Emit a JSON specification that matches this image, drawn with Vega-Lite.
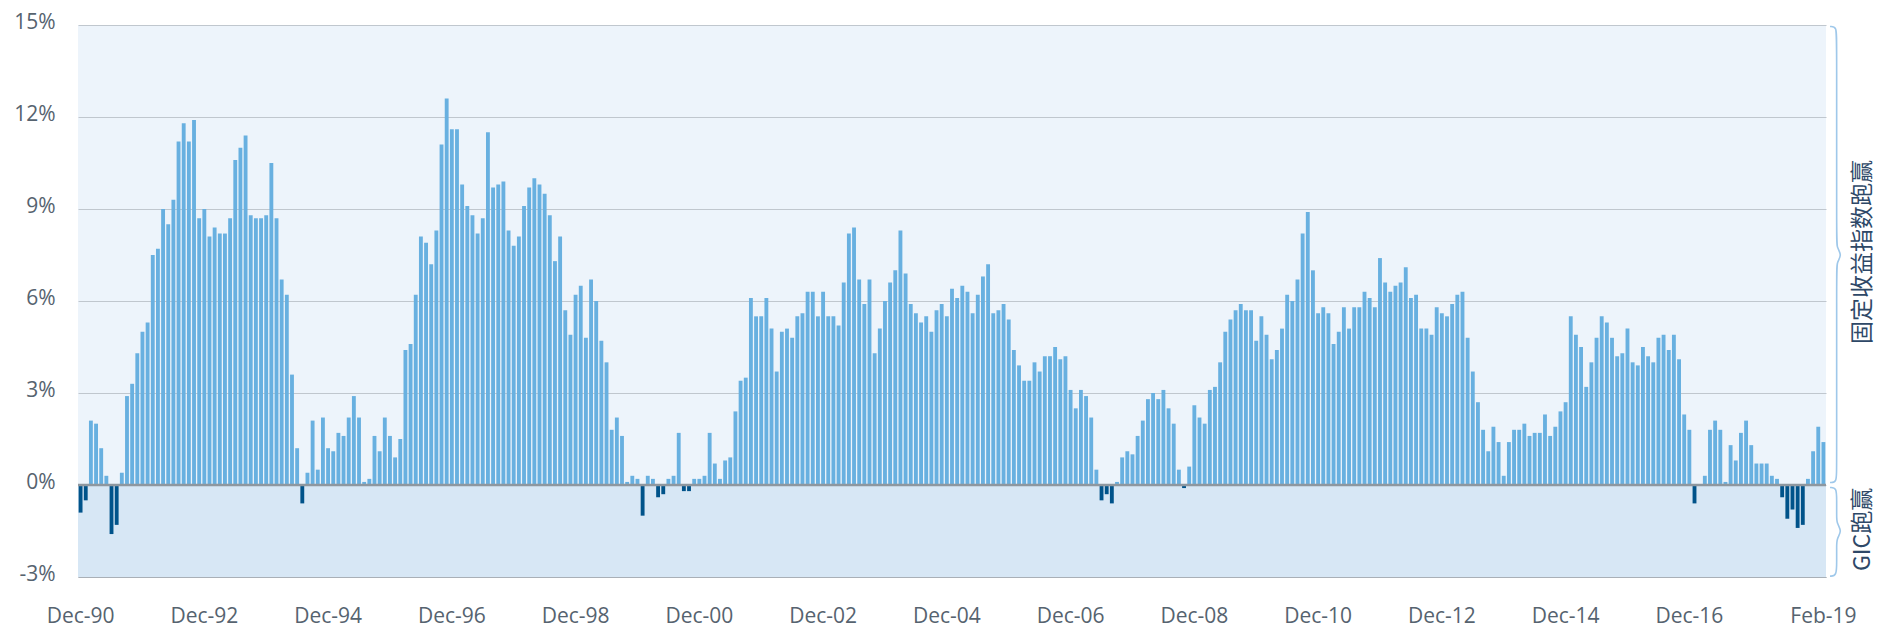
{
  "$schema": "https://vega.github.io/schema/vega-lite/v6.json",
  "width": 1748,
  "height": 552,
  "autosize": {"type": "none"},
  "padding": {"left": 78, "top": 25, "right": 51, "bottom": 52},
  "background": "#ffffff",
  "config": {
    "view": {"fill": "#EDF4FB", "stroke": null},
    "font": "Open Sans"
  },
  "datasets": {
    "main": [
      {"month":"Dec-90","v":-0.9},
      {"month":"Jan-91","v":-0.5},{"month":"Feb-91","v":2.1},{"month":"Mar-91","v":2.0},{"month":"Apr-91","v":1.2},{"month":"May-91","v":0.3},{"month":"Jun-91","v":-1.6},{"month":"Jul-91","v":-1.3},{"month":"Aug-91","v":0.4},{"month":"Sep-91","v":2.9},{"month":"Oct-91","v":3.3},{"month":"Nov-91","v":4.3},{"month":"Dec-91","v":5.0},
      {"month":"Jan-92","v":5.3},{"month":"Feb-92","v":7.5},{"month":"Mar-92","v":7.7},{"month":"Apr-92","v":9.0},{"month":"May-92","v":8.5},{"month":"Jun-92","v":9.3},{"month":"Jul-92","v":11.2},{"month":"Aug-92","v":11.8},{"month":"Sep-92","v":11.2},{"month":"Oct-92","v":11.9},{"month":"Nov-92","v":8.7},{"month":"Dec-92","v":9.0},
      {"month":"Jan-93","v":8.1},{"month":"Feb-93","v":8.4},{"month":"Mar-93","v":8.2},{"month":"Apr-93","v":8.2},{"month":"May-93","v":8.7},{"month":"Jun-93","v":10.6},{"month":"Jul-93","v":11.0},{"month":"Aug-93","v":11.4},{"month":"Sep-93","v":8.8},{"month":"Oct-93","v":8.7},{"month":"Nov-93","v":8.7},{"month":"Dec-93","v":8.8},
      {"month":"Jan-94","v":10.5},{"month":"Feb-94","v":8.7},{"month":"Mar-94","v":6.7},{"month":"Apr-94","v":6.2},{"month":"May-94","v":3.6},{"month":"Jun-94","v":1.2},{"month":"Jul-94","v":-0.6},{"month":"Aug-94","v":0.4},{"month":"Sep-94","v":2.1},{"month":"Oct-94","v":0.5},{"month":"Nov-94","v":2.2},{"month":"Dec-94","v":1.2},
      {"month":"Jan-95","v":1.1},{"month":"Feb-95","v":1.7},{"month":"Mar-95","v":1.6},{"month":"Apr-95","v":2.2},{"month":"May-95","v":2.9},{"month":"Jun-95","v":2.2},{"month":"Jul-95","v":0.1},{"month":"Aug-95","v":0.2},{"month":"Sep-95","v":1.6},{"month":"Oct-95","v":1.1},{"month":"Nov-95","v":2.2},{"month":"Dec-95","v":1.6},
      {"month":"Jan-96","v":0.9},{"month":"Feb-96","v":1.5},{"month":"Mar-96","v":4.4},{"month":"Apr-96","v":4.6},{"month":"May-96","v":6.2},{"month":"Jun-96","v":8.1},{"month":"Jul-96","v":7.9},{"month":"Aug-96","v":7.2},{"month":"Sep-96","v":8.3},{"month":"Oct-96","v":11.1},{"month":"Nov-96","v":12.6},{"month":"Dec-96","v":11.6},
      {"month":"Jan-97","v":11.6},{"month":"Feb-97","v":9.8},{"month":"Mar-97","v":9.1},{"month":"Apr-97","v":8.8},{"month":"May-97","v":8.2},{"month":"Jun-97","v":8.7},{"month":"Jul-97","v":11.5},{"month":"Aug-97","v":9.7},{"month":"Sep-97","v":9.8},{"month":"Oct-97","v":9.9},{"month":"Nov-97","v":8.3},{"month":"Dec-97","v":7.8},
      {"month":"Jan-98","v":8.1},{"month":"Feb-98","v":9.1},{"month":"Mar-98","v":9.7},{"month":"Apr-98","v":10.0},{"month":"May-98","v":9.8},{"month":"Jun-98","v":9.5},{"month":"Jul-98","v":8.8},{"month":"Aug-98","v":7.3},{"month":"Sep-98","v":8.1},{"month":"Oct-98","v":5.7},{"month":"Nov-98","v":4.9},{"month":"Dec-98","v":6.2},
      {"month":"Jan-99","v":6.5},{"month":"Feb-99","v":4.8},{"month":"Mar-99","v":6.7},{"month":"Apr-99","v":6.0},{"month":"May-99","v":4.7},{"month":"Jun-99","v":4.0},{"month":"Jul-99","v":1.8},{"month":"Aug-99","v":2.2},{"month":"Sep-99","v":1.6},{"month":"Oct-99","v":0.1},{"month":"Nov-99","v":0.3},{"month":"Dec-99","v":0.2},
      {"month":"Jan-00","v":-1.0},{"month":"Feb-00","v":0.3},{"month":"Mar-00","v":0.2},{"month":"Apr-00","v":-0.4},{"month":"May-00","v":-0.3},{"month":"Jun-00","v":0.2},{"month":"Jul-00","v":0.3},{"month":"Aug-00","v":1.7},{"month":"Sep-00","v":-0.2},{"month":"Oct-00","v":-0.2},{"month":"Nov-00","v":0.2},{"month":"Dec-00","v":0.2},
      {"month":"Jan-01","v":0.3},{"month":"Feb-01","v":1.7},{"month":"Mar-01","v":0.7},{"month":"Apr-01","v":0.2},{"month":"May-01","v":0.8},{"month":"Jun-01","v":0.9},{"month":"Jul-01","v":2.4},{"month":"Aug-01","v":3.4},{"month":"Sep-01","v":3.5},{"month":"Oct-01","v":6.1},{"month":"Nov-01","v":5.5},{"month":"Dec-01","v":5.5},
      {"month":"Jan-02","v":6.1},{"month":"Feb-02","v":5.1},{"month":"Mar-02","v":3.7},{"month":"Apr-02","v":5.0},{"month":"May-02","v":5.1},{"month":"Jun-02","v":4.8},{"month":"Jul-02","v":5.5},{"month":"Aug-02","v":5.6},{"month":"Sep-02","v":6.3},{"month":"Oct-02","v":6.3},{"month":"Nov-02","v":5.5},{"month":"Dec-02","v":6.3},
      {"month":"Jan-03","v":5.5},{"month":"Feb-03","v":5.5},{"month":"Mar-03","v":5.2},{"month":"Apr-03","v":6.6},{"month":"May-03","v":8.2},{"month":"Jun-03","v":8.4},{"month":"Jul-03","v":6.7},{"month":"Aug-03","v":5.9},{"month":"Sep-03","v":6.7},{"month":"Oct-03","v":4.3},{"month":"Nov-03","v":5.1},{"month":"Dec-03","v":6.0},
      {"month":"Jan-04","v":6.6},{"month":"Feb-04","v":7.0},{"month":"Mar-04","v":8.3},{"month":"Apr-04","v":6.9},{"month":"May-04","v":5.9},{"month":"Jun-04","v":5.6},{"month":"Jul-04","v":5.3},{"month":"Aug-04","v":5.5},{"month":"Sep-04","v":5.0},{"month":"Oct-04","v":5.7},{"month":"Nov-04","v":5.9},{"month":"Dec-04","v":5.5},
      {"month":"Jan-05","v":6.4},{"month":"Feb-05","v":6.1},{"month":"Mar-05","v":6.5},{"month":"Apr-05","v":6.3},{"month":"May-05","v":5.6},{"month":"Jun-05","v":6.2},{"month":"Jul-05","v":6.8},{"month":"Aug-05","v":7.2},{"month":"Sep-05","v":5.6},{"month":"Oct-05","v":5.7},{"month":"Nov-05","v":5.9},{"month":"Dec-05","v":5.4},
      {"month":"Jan-06","v":4.4},{"month":"Feb-06","v":3.9},{"month":"Mar-06","v":3.4},{"month":"Apr-06","v":3.4},{"month":"May-06","v":4.0},{"month":"Jun-06","v":3.7},{"month":"Jul-06","v":4.2},{"month":"Aug-06","v":4.2},{"month":"Sep-06","v":4.5},{"month":"Oct-06","v":4.1},{"month":"Nov-06","v":4.2},{"month":"Dec-06","v":3.1},
      {"month":"Jan-07","v":2.5},{"month":"Feb-07","v":3.1},{"month":"Mar-07","v":2.9},{"month":"Apr-07","v":2.2},{"month":"May-07","v":0.5},{"month":"Jun-07","v":-0.5},{"month":"Jul-07","v":-0.3},{"month":"Aug-07","v":-0.6},{"month":"Sep-07","v":0.1},{"month":"Oct-07","v":0.9},{"month":"Nov-07","v":1.1},{"month":"Dec-07","v":1.0},
      {"month":"Jan-08","v":1.6},{"month":"Feb-08","v":2.1},{"month":"Mar-08","v":2.8},{"month":"Apr-08","v":3.0},{"month":"May-08","v":2.8},{"month":"Jun-08","v":3.1},{"month":"Jul-08","v":2.5},{"month":"Aug-08","v":2.0},{"month":"Sep-08","v":0.5},{"month":"Oct-08","v":-0.1},{"month":"Nov-08","v":0.6},{"month":"Dec-08","v":2.6},
      {"month":"Jan-09","v":2.2},{"month":"Feb-09","v":2.0},{"month":"Mar-09","v":3.1},{"month":"Apr-09","v":3.2},{"month":"May-09","v":4.0},{"month":"Jun-09","v":5.0},{"month":"Jul-09","v":5.4},{"month":"Aug-09","v":5.7},{"month":"Sep-09","v":5.9},{"month":"Oct-09","v":5.7},{"month":"Nov-09","v":5.7},{"month":"Dec-09","v":4.7},
      {"month":"Jan-10","v":5.5},{"month":"Feb-10","v":4.9},{"month":"Mar-10","v":4.1},{"month":"Apr-10","v":4.4},{"month":"May-10","v":5.1},{"month":"Jun-10","v":6.2},{"month":"Jul-10","v":6.0},{"month":"Aug-10","v":6.7},{"month":"Sep-10","v":8.2},{"month":"Oct-10","v":8.9},{"month":"Nov-10","v":7.0},{"month":"Dec-10","v":5.6},
      {"month":"Jan-11","v":5.8},{"month":"Feb-11","v":5.6},{"month":"Mar-11","v":4.6},{"month":"Apr-11","v":5.0},{"month":"May-11","v":5.8},{"month":"Jun-11","v":5.1},{"month":"Jul-11","v":5.8},{"month":"Aug-11","v":5.8},{"month":"Sep-11","v":6.3},{"month":"Oct-11","v":6.1},{"month":"Nov-11","v":5.8},{"month":"Dec-11","v":7.4},
      {"month":"Jan-12","v":6.6},{"month":"Feb-12","v":6.3},{"month":"Mar-12","v":6.5},{"month":"Apr-12","v":6.6},{"month":"May-12","v":7.1},{"month":"Jun-12","v":6.1},{"month":"Jul-12","v":6.2},{"month":"Aug-12","v":5.1},{"month":"Sep-12","v":5.1},{"month":"Oct-12","v":4.9},{"month":"Nov-12","v":5.8},{"month":"Dec-12","v":5.6},
      {"month":"Jan-13","v":5.5},{"month":"Feb-13","v":5.9},{"month":"Mar-13","v":6.2},{"month":"Apr-13","v":6.3},{"month":"May-13","v":4.8},{"month":"Jun-13","v":3.7},{"month":"Jul-13","v":2.7},{"month":"Aug-13","v":1.8},{"month":"Sep-13","v":1.1},{"month":"Oct-13","v":1.9},{"month":"Nov-13","v":1.4},{"month":"Dec-13","v":0.3},
      {"month":"Jan-14","v":1.4},{"month":"Feb-14","v":1.8},{"month":"Mar-14","v":1.8},{"month":"Apr-14","v":2.0},{"month":"May-14","v":1.6},{"month":"Jun-14","v":1.7},{"month":"Jul-14","v":1.7},{"month":"Aug-14","v":2.3},{"month":"Sep-14","v":1.6},{"month":"Oct-14","v":1.9},{"month":"Nov-14","v":2.4},{"month":"Dec-14","v":2.7},
      {"month":"Jan-15","v":5.5},{"month":"Feb-15","v":4.9},{"month":"Mar-15","v":4.5},{"month":"Apr-15","v":3.2},{"month":"May-15","v":4.0},{"month":"Jun-15","v":4.8},{"month":"Jul-15","v":5.5},{"month":"Aug-15","v":5.3},{"month":"Sep-15","v":4.8},{"month":"Oct-15","v":4.2},{"month":"Nov-15","v":4.3},{"month":"Dec-15","v":5.1},
      {"month":"Jan-16","v":4.0},{"month":"Feb-16","v":3.9},{"month":"Mar-16","v":4.5},{"month":"Apr-16","v":4.2},{"month":"May-16","v":4.0},{"month":"Jun-16","v":4.8},{"month":"Jul-16","v":4.9},{"month":"Aug-16","v":4.4},{"month":"Sep-16","v":4.9},{"month":"Oct-16","v":4.1},{"month":"Nov-16","v":2.3},{"month":"Dec-16","v":1.8},
      {"month":"Jan-17","v":-0.6},{"month":"Feb-17","v":0.0},{"month":"Mar-17","v":0.3},{"month":"Apr-17","v":1.8},{"month":"May-17","v":2.1},{"month":"Jun-17","v":1.8},{"month":"Jul-17","v":0.1},{"month":"Aug-17","v":1.3},{"month":"Sep-17","v":0.8},{"month":"Oct-17","v":1.7},{"month":"Nov-17","v":2.1},{"month":"Dec-17","v":1.3},
      {"month":"Jan-18","v":0.7},{"month":"Feb-18","v":0.7},{"month":"Mar-18","v":0.7},{"month":"Apr-18","v":0.3},{"month":"May-18","v":0.2},{"month":"Jun-18","v":-0.4},{"month":"Jul-18","v":-1.1},{"month":"Aug-18","v":-0.8},{"month":"Sep-18","v":-1.4},{"month":"Oct-18","v":-1.3},{"month":"Nov-18","v":0.2},{"month":"Dec-18","v":1.1},
      {"month":"Jan-19","v":1.9},{"month":"Feb-19","v":1.4}
    ],
    "brace": [
      {"part":"up","k":1,"pos":1.0023,"pct":14.95},
      {"part":"up","k":2,"pos":1.0061,"pct":14.95},
      {"part":"up","k":3,"pos":1.0061,"pct":14.5},
      {"part":"up","k":4,"pos":1.0061,"pct":8.0},
      {"part":"up","k":5,"pos":1.0061,"pct":7.75},
      {"part":"up","k":6,"pos":1.0092,"pct":7.5},
      {"part":"up","k":7,"pos":1.0061,"pct":7.25},
      {"part":"up","k":8,"pos":1.0061,"pct":7.0},
      {"part":"up","k":9,"pos":1.0061,"pct":0.5},
      {"part":"up","k":10,"pos":1.0061,"pct":0.08},
      {"part":"up","k":11,"pos":1.0023,"pct":0.08},
      {"part":"down","k":1,"pos":1.0023,"pct":-0.08},
      {"part":"down","k":2,"pos":1.0061,"pct":-0.08},
      {"part":"down","k":3,"pos":1.0061,"pct":-0.5},
      {"part":"down","k":4,"pos":1.0061,"pct":-1.0},
      {"part":"down","k":5,"pos":1.0061,"pct":-1.25},
      {"part":"down","k":6,"pos":1.0092,"pct":-1.5},
      {"part":"down","k":7,"pos":1.0061,"pct":-1.75},
      {"part":"down","k":8,"pos":1.0061,"pct":-2.0},
      {"part":"down","k":9,"pos":1.0061,"pct":-2.5},
      {"part":"down","k":10,"pos":1.0061,"pct":-2.97},
      {"part":"down","k":11,"pos":1.0023,"pct":-2.97}
    ]
  },
  "resolve": {"scale": {"x": "independent"}},
  "layer": [
    {
      "data": {"values": [{}]},
      "mark": {"type": "rect", "color": "#D7E7F5"},
      "encoding": {
        "y": {"datum": 0, "type": "quantitative"},
        "y2": {"datum": -3}
      }
    },
    {
      "data": {"name": "main"},
      "mark": {"type": "bar"},
      "encoding": {
        "x": {
          "field": "month", "type": "ordinal", "sort": null,
          "scale": {"paddingInner": 0.25, "paddingOuter": 0.125},
          "axis": {
            "title": null,
            "values": ["Dec-90","Dec-92","Dec-94","Dec-96","Dec-98","Dec-00","Dec-02","Dec-04","Dec-06","Dec-08","Dec-10","Dec-12","Dec-14","Dec-16","Feb-19"],
            "labelAngle": 0,
            "ticks": false,
            "tickSize": 0,
            "grid": false,
            "domain": true,
            "domainColor": "#A9B0B7",
            "domainWidth": 1.2,
            "labelPadding": 28,
            "labelFont": "Open Sans",
            "labelFontSize": 21,
            "labelColor": "#56636F",
            "labelOverlap": false,
            "zindex": 1
          }
        },
        "y": {
          "field": "v", "type": "quantitative",
          "scale": {"domain": [-3, 15], "nice": false, "zero": false},
          "axis": {
            "title": null,
            "values": [-3, 0, 3, 6, 9, 12, 15],
            "labelExpr": "datum.value + '%'",
            "grid": true,
            "gridColor": "#C0C7CE",
            "gridWidth": 1,
            "domain": false,
            "ticks": false,
            "tickSize": 0,
            "labelPadding": 23,
            "labelOffset": -3,
            "labelFont": "Open Sans",
            "labelFontSize": 21,
            "labelColor": "#56636F",
            "zindex": 0
          }
        },
        "color": {
          "condition": {"test": "datum.v < 0", "value": "#00538A"},
          "value": "#68B0E0"
        }
      }
    },
    {
      "data": {"values": [{}]},
      "mark": {"type": "rule", "color": "#8E979F", "strokeWidth": 2.5},
      "encoding": {"y": {"datum": 0, "type": "quantitative"}}
    },
    {
      "data": {"name": "brace"},
      "mark": {"type": "line", "interpolate": "basis", "color": "#9FC8EA", "strokeWidth": 1.6, "clip": false},
      "encoding": {
        "x": {"field": "pos", "type": "quantitative", "scale": {"domain": [0, 1], "nice": false, "zero": false}, "axis": null},
        "y": {"field": "pct", "type": "quantitative"},
        "detail": {"field": "part"},
        "order": {"field": "k"}
      }
    },
    {
      "data": {"values": [{}]},
      "mark": {"type": "text", "text": "固定收益指数跑赢", "angle": 270, "align": "center", "baseline": "middle", "font": "Noto Sans CJK SC", "fontSize": 23, "color": "#2E4867"},
      "encoding": {
        "x": {"datum": 1.0212, "type": "quantitative", "scale": {"domain": [0, 1], "nice": false, "zero": false}, "axis": null},
        "y": {"datum": 7.6, "type": "quantitative"}
      }
    },
    {
      "data": {"values": [{}]},
      "mark": {"type": "text", "text": "GIC跑赢", "angle": 270, "align": "center", "baseline": "middle", "font": "Noto Sans CJK SC", "fontSize": 23, "color": "#2E4867"},
      "encoding": {
        "x": {"datum": 1.0212, "type": "quantitative", "scale": {"domain": [0, 1], "nice": false, "zero": false}, "axis": null},
        "y": {"datum": -1.45, "type": "quantitative"}
      }
    }
  ]
}
